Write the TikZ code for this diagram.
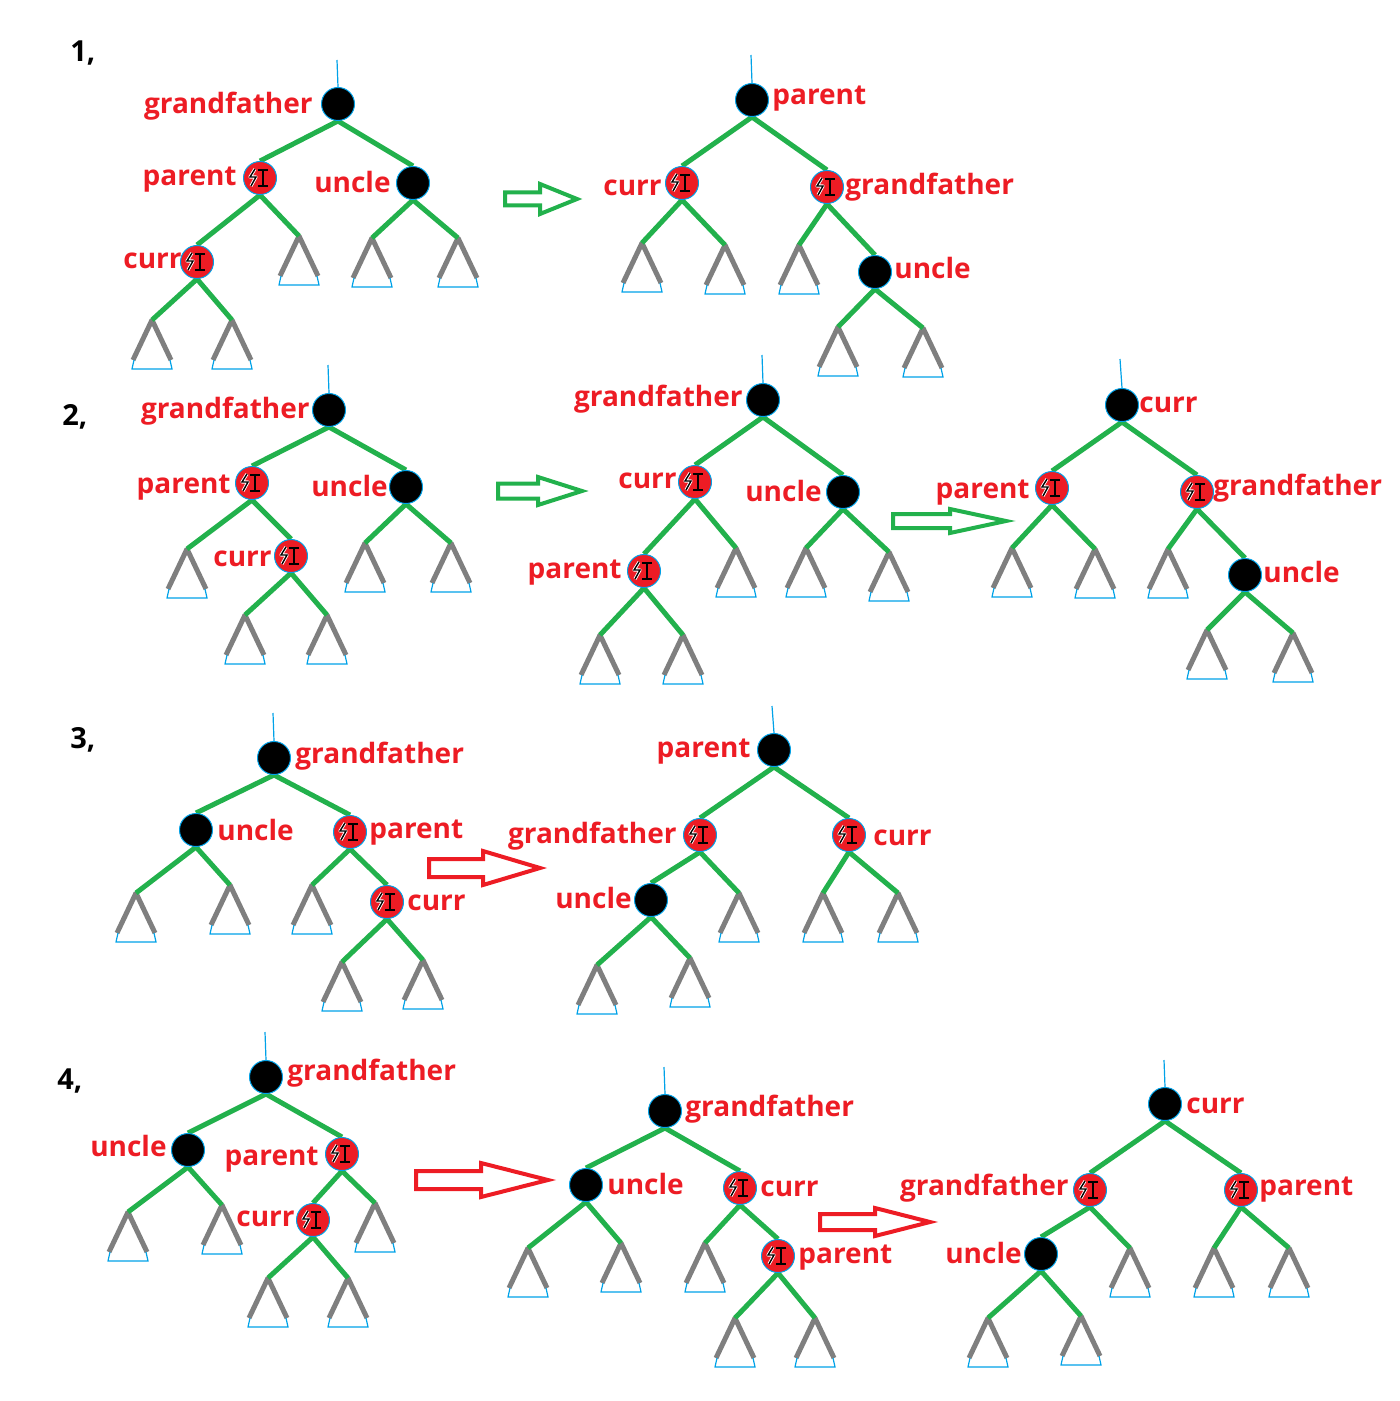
\documentclass[tikz,border=0pt]{standalone}
\usepackage{fontspec}
\setmainfont{Open Sans}
\definecolor{pgreen}{RGB}{34,177,76}
\definecolor{pred}{RGB}{237,28,36}
\definecolor{pblue}{RGB}{0,162,232}
\definecolor{pgray}{RGB}{127,127,127}
\pgfdeclarelayer{tri}
\pgfdeclarelayer{edges}
\pgfsetlayers{tri,edges,main}
\tikzset{
  bn/.style={circle, fill=black, draw=pblue, line width=0.5pt, minimum size=16.5pt, inner sep=0pt},
  rn/.style={circle, fill=pred, draw=pblue, line width=0.5pt, minimum size=16.5pt, inner sep=0pt,
    path picture={
      \coordinate (pc) at (path picture bounding box.center);
      \draw[white, line width=1.6pt, line join=round] ([shift={(-5,-9)}]pc) -- ([shift={(-10,-1)}]pc) -- ([shift={(-4,-1)}]pc) -- ([shift={(-9,8)}]pc);
      \draw[black, line width=0.7pt] ([shift={(-5,-9)}]pc) -- ([shift={(-10,-1)}]pc) -- ([shift={(-4,-1)}]pc) -- ([shift={(-9,8)}]pc);
      \draw[black, line width=1pt] ([shift={(3,-8)}]pc) -- ([shift={(3,8)}]pc);
      \draw[black, line width=0.8pt] ([shift={(-2,-8)}]pc) -- ([shift={(8,-8)}]pc);
      \draw[black, line width=0.8pt] ([shift={(-2,8)}]pc) -- ([shift={(8,8)}]pc);
    }},
  edge/.style={pgreen, line width=2.5pt},
  legs/.style={pgray, line width=2.5pt, line join=bevel},
  tbase/.style={pblue, line width=0.6pt},
  stub/.style={pblue, line width=0.6pt},
  lbl/.style={text=pred, font=\bfseries\fontsize{14}{16}\selectfont, inner sep=0pt, yshift=-1.5pt},
  num/.style={font=\bfseries\fontsize{14.5}{16}\selectfont, inner sep=0pt},
  garrow/.style={draw=pgreen, line width=2pt},
  rarrow/.style={draw=pred, line width=2pt},
}
\newcommand{\subtree}[3]{%
  \coordinate (#1) at (#2,#3);
  \begin{pgfonlayer}{tri}
    \draw[legs] ([shift={(-19,40)}]#1) -- (#1) -- ([shift={(19,40)}]#1);
    \draw[tbase] ([shift={(-18,40)}]#1) -- ([shift={(-20,49)}]#1) -- ([shift={(20,49)}]#1) -- ([shift={(18,40)}]#1);
  \end{pgfonlayer}}
\newcommand{\hollowarrow}[7]{%
  \draw[#1] (#2,#5-#6) -- (#3,#5-#6) -- (#3,#5-#7) -- (#4,#5) -- (#3,#5+#7) -- (#3,#5+#6) -- (#2,#5+#6) -- cycle;}
\begin{document}
\begin{tikzpicture}[x=0.5pt, y=-0.5pt]
\useasboundingbox (0,0) rectangle (1399,1401);

% numbers
\node[num, anchor=base west] (n1) at (70,62) {1,};
\node[num, anchor=base west] (n2) at (62,425) {2,};
\node[num, anchor=base west] (n3) at (70,748) {3,};
\node[num, anchor=base west] (n4) at (57,1089) {4,};

% ================= 1A =================
\node[bn] (g1a) at (338,104) {};
\node[rn] (p1a) at (260,178) {};
\node[bn] (u1a) at (413,183) {};
\node[rn] (c1a) at (197,262) {};
\node[lbl, anchor=mid east] (lg1a) at (313,105) {grandfather};
\node[lbl, anchor=mid east] (lp1a) at (237,177) {parent};
\node[lbl, anchor=mid east] (lu1a) at (391,184) {uncle};
\node[lbl, anchor=mid east] (lc1a) at (182,260) {curr};
\subtree{t1a1}{299}{236}
\subtree{t1a2}{372}{238}
\subtree{t1a3}{458}{238}
\subtree{t1a4}{152}{320}
\subtree{t1a5}{232}{320}
\coordinate (s1a) at (337,60);
\begin{pgfonlayer}{edges}
\draw[stub] (s1a) -- (g1a.north);
\draw[edge] (g1a.south) -- (p1a.north);
\draw[edge] (g1a.south) -- (u1a.north);
\draw[edge] (p1a.south) -- (c1a.north);
\draw[edge] (p1a.south) -- (t1a1);
\draw[edge] (u1a.south) -- (t1a2);
\draw[edge] (u1a.south) -- (t1a3);
\draw[edge] (c1a.south) -- (t1a4);
\draw[edge] (c1a.south) -- (t1a5);
\end{pgfonlayer}

\hollowarrow{garrow}{505}{540}{577}{199}{6.5}{15}

% ================= 1B =================
\node[bn] (p1b) at (752,100) {};
\node[rn] (c1b) at (682,183) {};
\node[rn] (g1b) at (827,187) {};
\node[bn] (u1b) at (875,272) {};
\node[lbl, anchor=mid west] (lp1b) at (772,96) {parent};
\node[lbl, anchor=mid east] (lc1b) at (662,187) {curr};
\node[lbl, anchor=mid west] (lg1b) at (845,186) {grandfather};
\node[lbl, anchor=mid west] (lu1b) at (894,270) {uncle};
\subtree{t1b1}{642}{243}
\subtree{t1b2}{725}{245}
\subtree{t1b3}{799}{245}
\subtree{t1b4}{838}{327}
\subtree{t1b5}{923}{328}
\coordinate (s1b) at (751,55);
\begin{pgfonlayer}{edges}
\draw[stub] (s1b) -- (p1b.north);
\draw[edge] (p1b.south) -- (c1b.north);
\draw[edge] (p1b.south) -- (g1b.north);
\draw[edge] (c1b.south) -- (t1b1);
\draw[edge] (c1b.south) -- (t1b2);
\draw[edge] (g1b.south) -- (t1b3);
\draw[edge] (g1b.south) -- (u1b.north);
\draw[edge] (u1b.south) -- (t1b4);
\draw[edge] (u1b.south) -- (t1b5);
\end{pgfonlayer}

% ================= 2A =================
\node[bn] (g2a) at (329,410) {};
\node[rn] (p2a) at (252,483) {};
\node[bn] (u2a) at (406,487) {};
\node[rn] (c2a) at (291,556) {};
\node[lbl, anchor=mid east] (lg2a) at (310,410) {grandfather};
\node[lbl, anchor=mid east] (lp2a) at (231,485) {parent};
\node[lbl, anchor=mid east] (lu2a) at (388,488) {uncle};
\node[lbl, anchor=mid east] (lc2a) at (272,558) {curr};
\subtree{t2a1}{187}{549}
\subtree{t2a2}{365}{543}
\subtree{t2a3}{451}{543}
\subtree{t2a4}{245}{615}
\subtree{t2a5}{327}{615}
\coordinate (s2a) at (328,365);
\begin{pgfonlayer}{edges}
\draw[stub] (s2a) -- (g2a.north);
\draw[edge] (g2a.south) -- (p2a.north);
\draw[edge] (g2a.south) -- (u2a.north);
\draw[edge] (p2a.south) -- (t2a1);
\draw[edge] (p2a.south) -- (c2a.north);
\draw[edge] (u2a.south) -- (t2a2);
\draw[edge] (u2a.south) -- (t2a3);
\draw[edge] (c2a.south) -- (t2a4);
\draw[edge] (c2a.south) -- (t2a5);
\end{pgfonlayer}

\hollowarrow{garrow}{498}{538}{582}{491}{7.5}{14}

% ================= 2B =================
\node[bn] (g2b) at (763,400) {};
\node[rn] (c2b) at (695,482) {};
\node[bn] (u2b) at (843,492) {};
\node[rn] (p2b) at (644,571) {};
\node[lbl, anchor=mid east] (lg2b) at (743,398) {grandfather};
\node[lbl, anchor=mid east] (lc2b) at (677,480) {curr};
\node[lbl, anchor=mid east] (lu2b) at (822,493) {uncle};
\node[lbl, anchor=mid east] (lp2b) at (622,570) {parent};
\subtree{t2b1}{736}{548}
\subtree{t2b2}{806}{548}
\subtree{t2b3}{889}{552}
\subtree{t2b4}{600}{635}
\subtree{t2b5}{683}{635}
\coordinate (s2b) at (762,355);
\begin{pgfonlayer}{edges}
\draw[stub] (s2b) -- (g2b.north);
\draw[edge] (g2b.south) -- (c2b.north);
\draw[edge] (g2b.south) -- (u2b.north);
\draw[edge] (c2b.south) -- (p2b.north);
\draw[edge] (c2b.south) -- (t2b1);
\draw[edge] (u2b.south) -- (t2b2);
\draw[edge] (u2b.south) -- (t2b3);
\draw[edge] (p2b.south) -- (t2b4);
\draw[edge] (p2b.south) -- (t2b5);
\end{pgfonlayer}

\hollowarrow{garrow}{893}{950}{1006}{521}{7}{12}

% ================= 2C =================
\node[bn] (c2c) at (1122,405) {};
\node[rn] (p2c) at (1052,488) {};
\node[rn] (g2c) at (1197,492) {};
\node[bn] (u2c) at (1245,575) {};
\node[lbl, anchor=mid west] (lc2c) at (1139,404) {curr};
\node[lbl, anchor=mid east] (lp2c) at (1030,490) {parent};
\node[lbl, anchor=mid west] (lg2c) at (1213,487) {grandfather};
\node[lbl, anchor=mid west] (lu2c) at (1263,574) {uncle};
\subtree{t2c1}{1012}{548}
\subtree{t2c2}{1095}{549}
\subtree{t2c3}{1168}{549}
\subtree{t2c4}{1207}{630}
\subtree{t2c5}{1293}{633}
\coordinate (s2c) at (1120,359);
\begin{pgfonlayer}{edges}
\draw[stub] (s2c) -- (c2c.north);
\draw[edge] (c2c.south) -- (p2c.north);
\draw[edge] (c2c.south) -- (g2c.north);
\draw[edge] (p2c.south) -- (t2c1);
\draw[edge] (p2c.south) -- (t2c2);
\draw[edge] (g2c.south) -- (t2c3);
\draw[edge] (g2c.south) -- (u2c.north);
\draw[edge] (u2c.south) -- (t2c4);
\draw[edge] (u2c.south) -- (t2c5);
\end{pgfonlayer}

% ================= 3A =================
\node[bn] (g3a) at (274,758) {};
\node[bn] (u3a) at (196,830) {};
\node[rn] (p3a) at (350,832) {};
\node[rn] (c3a) at (387,902) {};
\node[lbl, anchor=mid west] (lg3a) at (295,755) {grandfather};
\node[lbl, anchor=mid west] (lu3a) at (217,832) {uncle};
\node[lbl, anchor=mid west] (lp3a) at (369,830) {parent};
\node[lbl, anchor=mid west] (lc3a) at (407,902) {curr};
\subtree{t3a1}{136}{893}
\subtree{t3a2}{230}{885}
\subtree{t3a3}{312}{885}
\subtree{t3a4}{342}{962}
\subtree{t3a5}{423}{960}
\coordinate (s3a) at (273,713);
\begin{pgfonlayer}{edges}
\draw[stub] (s3a) -- (g3a.north);
\draw[edge] (g3a.south) -- (u3a.north);
\draw[edge] (g3a.south) -- (p3a.north);
\draw[edge] (u3a.south) -- (t3a1);
\draw[edge] (u3a.south) -- (t3a2);
\draw[edge] (p3a.south) -- (t3a3);
\draw[edge] (p3a.south) -- (c3a.north);
\draw[edge] (c3a.south) -- (t3a4);
\draw[edge] (c3a.south) -- (t3a5);
\end{pgfonlayer}

\hollowarrow{rarrow}{429}{483}{540}{868}{9}{17}

% ================= 3B =================
\node[bn] (p3b) at (774,750) {};
\node[rn] (g3b) at (700,835) {};
\node[rn] (c3b) at (849,835) {};
\node[bn] (u3b) at (651,900) {};
\node[lbl, anchor=mid east] (lp3b) at (751,749) {parent};
\node[lbl, anchor=mid east] (lg3b) at (677,835) {grandfather};
\node[lbl, anchor=mid west] (lc3b) at (873,837) {curr};
\node[lbl, anchor=mid east] (lu3b) at (632,900) {uncle};
\subtree{t3b1}{739}{893}
\subtree{t3b2}{823}{893}
\subtree{t3b3}{898}{893}
\subtree{t3b4}{597}{965}
\subtree{t3b5}{690}{958}
\coordinate (s3b) at (772,706);
\begin{pgfonlayer}{edges}
\draw[stub] (s3b) -- (p3b.north);
\draw[edge] (p3b.south) -- (g3b.north);
\draw[edge] (p3b.south) -- (c3b.north);
\draw[edge] (g3b.south) -- (u3b.north);
\draw[edge] (g3b.south) -- (t3b1);
\draw[edge] (c3b.south) -- (t3b2);
\draw[edge] (c3b.south) -- (t3b3);
\draw[edge] (u3b.south) -- (t3b4);
\draw[edge] (u3b.south) -- (t3b5);
\end{pgfonlayer}

% ================= 4A =================
\node[bn] (g4a) at (266,1077) {};
\node[bn] (u4a) at (188,1150) {};
\node[rn] (p4a) at (342,1154) {};
\node[rn] (c4a) at (313,1220) {};
\node[lbl, anchor=mid west] (lg4a) at (287,1072) {grandfather};
\node[lbl, anchor=mid east] (lu4a) at (167,1148) {uncle};
\node[lbl, anchor=mid east] (lp4a) at (319,1157) {parent};
\node[lbl, anchor=mid east] (lc4a) at (295,1218) {curr};
\subtree{t4a1}{128}{1212}
\subtree{t4a2}{222}{1205}
\subtree{t4a3}{375}{1203}
\subtree{t4a4}{268}{1278}
\subtree{t4a5}{348}{1278}
\coordinate (s4a) at (265,1032);
\begin{pgfonlayer}{edges}
\draw[stub] (s4a) -- (g4a.north);
\draw[edge] (g4a.south) -- (u4a.north);
\draw[edge] (g4a.south) -- (p4a.north);
\draw[edge] (u4a.south) -- (t4a1);
\draw[edge] (u4a.south) -- (t4a2);
\draw[edge] (p4a.south) -- (c4a.north);
\draw[edge] (p4a.south) -- (t4a3);
\draw[edge] (c4a.south) -- (t4a4);
\draw[edge] (c4a.south) -- (t4a5);
\end{pgfonlayer}

\hollowarrow{rarrow}{416}{481}{548}{1180}{9}{17}

% ================= 4B =================
\node[bn] (g4b) at (665,1111) {};
\node[bn] (u4b) at (586,1185) {};
\node[rn] (c4b) at (740,1188) {};
\node[rn] (p4b) at (778,1256) {};
\node[lbl, anchor=mid west] (lg4b) at (685,1108) {grandfather};
\node[lbl, anchor=mid west] (lu4b) at (607,1186) {uncle};
\node[lbl, anchor=mid west] (lc4b) at (760,1188) {curr};
\node[lbl, anchor=mid west] (lp4b) at (798,1255) {parent};
\subtree{t4b1}{528}{1248}
\subtree{t4b2}{621}{1243}
\subtree{t4b3}{705}{1243}
\subtree{t4b4}{735}{1318}
\subtree{t4b5}{815}{1318}
\coordinate (s4b) at (664,1067);
\begin{pgfonlayer}{edges}
\draw[stub] (s4b) -- (g4b.north);
\draw[edge] (g4b.south) -- (u4b.north);
\draw[edge] (g4b.south) -- (c4b.north);
\draw[edge] (u4b.south) -- (t4b1);
\draw[edge] (u4b.south) -- (t4b2);
\draw[edge] (c4b.south) -- (t4b3);
\draw[edge] (c4b.south) -- (p4b.north);
\draw[edge] (p4b.south) -- (t4b4);
\draw[edge] (p4b.south) -- (t4b5);
\end{pgfonlayer}

\hollowarrow{rarrow}{820}{875}{930}{1222}{8}{14}

% ================= 4C =================
\node[bn] (c4c) at (1165,1104) {};
\node[rn] (g4c) at (1090,1190) {};
\node[rn] (p4c) at (1241,1190) {};
\node[bn] (u4c) at (1041,1254) {};
\node[lbl, anchor=mid west] (lc4c) at (1186,1105) {curr};
\node[lbl, anchor=mid east] (lg4c) at (1069,1187) {grandfather};
\node[lbl, anchor=mid west] (lp4c) at (1259,1187) {parent};
\node[lbl, anchor=mid east] (lu4c) at (1022,1255) {uncle};
\subtree{t4c1}{1130}{1248}
\subtree{t4c2}{1214}{1248}
\subtree{t4c3}{1289}{1248}
\subtree{t4c4}{988}{1318}
\subtree{t4c5}{1081}{1316}
\coordinate (s4c) at (1164,1060);
\begin{pgfonlayer}{edges}
\draw[stub] (s4c) -- (c4c.north);
\draw[edge] (c4c.south) -- (g4c.north);
\draw[edge] (c4c.south) -- (p4c.north);
\draw[edge] (g4c.south) -- (u4c.north);
\draw[edge] (g4c.south) -- (t4c1);
\draw[edge] (p4c.south) -- (t4c2);
\draw[edge] (p4c.south) -- (t4c3);
\draw[edge] (u4c.south) -- (t4c4);
\draw[edge] (u4c.south) -- (t4c5);
\end{pgfonlayer}
\end{tikzpicture}
\end{document}
